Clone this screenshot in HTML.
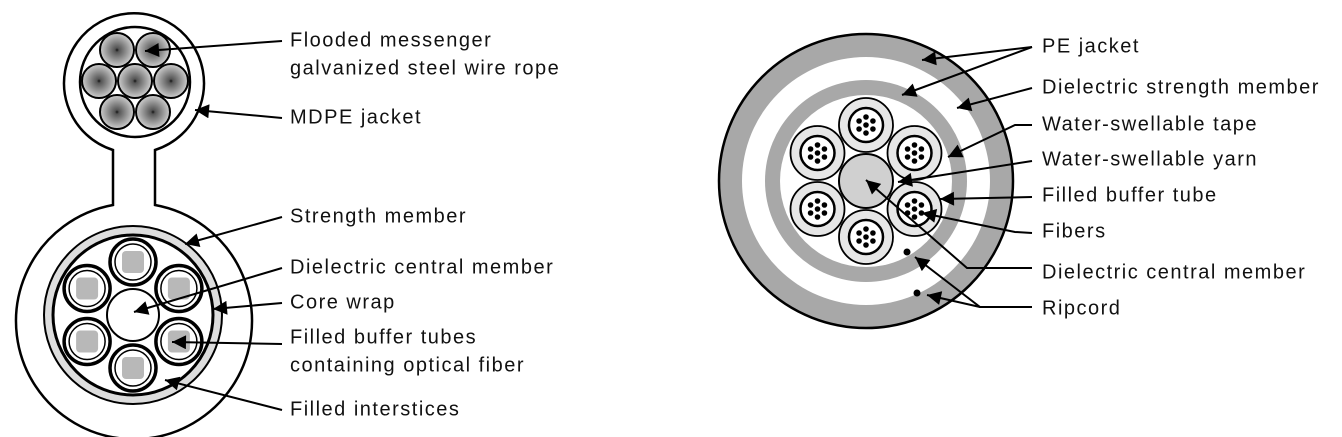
<!DOCTYPE html>
<html><head><meta charset="utf-8"><style>
html,body{margin:0;padding:0;background:#fff;}
svg{display:block;}
text{font-family:"Liberation Sans",sans-serif;font-size:20px;letter-spacing:1.5px;fill:#111;dominant-baseline:middle;}
</style></head><body>
<svg width="1342" height="437" viewBox="0 0 1342 437">
<defs>
<marker id="ah" viewBox="0 0 10 10" refX="10" refY="5" markerWidth="22" markerHeight="14" markerUnits="userSpaceOnUse" orient="auto">
<path d="M0,0 L10,5 L0,10 z" fill="#000"/></marker>
<radialGradient id="wire"><stop offset="0" stop-color="#111"/><stop offset="0.12" stop-color="#555"/><stop offset="1" stop-color="#cfcfcf"/></radialGradient>
</defs>

<g stroke="#000" stroke-width="2.5">
<path d="M113,150 A70,70 0 1 1 155,150 L155,205 A118,118 0 1 1 113,205 Z" fill="#fff"/>
<circle cx="135" cy="82" r="55" fill="#fff"/>
<g fill="url(#wire)" stroke-width="2">
<circle cx="135" cy="81" r="17"/><circle cx="99" cy="81" r="17"/><circle cx="171" cy="81" r="17"/>
<circle cx="117" cy="50" r="17"/><circle cx="153" cy="50" r="17"/>
<circle cx="117" cy="112" r="17"/><circle cx="153" cy="112" r="17"/>
</g>
<circle cx="133" cy="315" r="89" fill="#ddd" stroke-width="2"/>
<circle cx="133" cy="315" r="80" fill="#fff" stroke-width="3"/>
<circle cx="133" cy="315" r="26" fill="#fff" stroke-width="2"/>
<g id="ltubes"></g>
</g>

<g>
<circle cx="866" cy="181" r="147" fill="#a8a8a8" stroke="#000" stroke-width="2.5"/>
<circle cx="866" cy="181" r="124" fill="#fff"/>
<circle cx="866" cy="181" r="101" fill="#a8a8a8"/>
<circle cx="866" cy="181" r="86" fill="#fff"/>
<circle cx="866" cy="181" r="27" fill="#d0d0d0" stroke="#000" stroke-width="2"/>
<g id="rtubes"></g>
<circle cx="907" cy="252" r="3.5" fill="#000"/>
<circle cx="917" cy="293" r="3.5" fill="#000"/>
</g>

<g fill="none" stroke="#000" stroke-width="2" marker-end="url(#ah)">
<line x1="282" y1="41" x2="145" y2="51"/>
<line x1="282" y1="118" x2="195" y2="110"/>
<line x1="282" y1="217" x2="185" y2="244"/>
<line x1="282" y1="268" x2="134" y2="312"/>
<line x1="282" y1="303" x2="213" y2="309"/>
<line x1="282" y1="344" x2="172" y2="342"/>
<line x1="282" y1="410" x2="165" y2="380"/>
<line x1="1032" y1="47" x2="922" y2="60"/>
<line x1="1032" y1="47" x2="902" y2="95"/>
<line x1="1032" y1="88" x2="957" y2="108"/>
<polyline points="1032,125 1015,125 948,157"/>
<line x1="1032" y1="161" x2="898" y2="182"/>
<line x1="1032" y1="197" x2="940" y2="199"/>
<polyline points="1032,233 1015,232 922,213"/>
<polyline points="1032,268 967,268 866,180"/>
<polyline points="1032,307 980,307 915,257"/>
<polyline points="980,307 927,295"/>
</g>

<g>
<text x="290" y="41">Flooded messenger</text>
<text x="290" y="69">galvanized steel wire rope</text>
<text x="290" y="118">MDPE jacket</text>
<text x="290" y="217">Strength member</text>
<text x="290" y="268">Dielectric central member</text>
<text x="290" y="303">Core wrap</text>
<text x="290" y="338">Filled buffer tubes</text>
<text x="290" y="366">containing optical fiber</text>
<text x="290" y="410">Filled interstices</text>
</g>
<g>
<text x="1042" y="47">PE jacket</text>
<text x="1042" y="88">Dielectric strength member</text>
<text x="1042" y="125">Water-swellable tape</text>
<text x="1042" y="160">Water-swellable yarn</text>
<text x="1042" y="196">Filled buffer tube</text>
<text x="1042" y="232">Fibers</text>
<text x="1042" y="273">Dielectric central member</text>
<text x="1042" y="309">Ripcord</text>
</g>
</svg>
<script>
const NS='http://www.w3.org/2000/svg';
function mk(tag,attrs,parent){const e=document.createElementNS(NS,tag);for(const k in attrs)e.setAttribute(k,attrs[k]);parent.appendChild(e);return e;}
const angles=[-90,-30,30,90,150,210];
const lt=document.getElementById('ltubes');
angles.forEach(a=>{
  const r=a*Math.PI/180, x=133+53*Math.cos(r), y=315+53*Math.sin(r);
  const g=mk('g',{},lt);
  
  
  mk('circle',{cx:x,cy:y,r:23,fill:'#fff',stroke:'#000','stroke-width':3.5},g);
  mk('circle',{cx:x,cy:y,r:18,fill:'#fff',stroke:'#000','stroke-width':1.5},g);
  mk('rect',{x:x-11,y:y-11,width:22,height:22,rx:4,fill:'#b8b8b8',stroke:'none'},g);
});
const rt=document.getElementById('rtubes');
angles.forEach(a=>{
  const r=a*Math.PI/180, x=866+56*Math.cos(r), y=181+56*Math.sin(r);
  const g=mk('g',{},rt);
  
  
  mk('circle',{cx:x,cy:y,r:27,fill:'#e6e6e6',stroke:'#000','stroke-width':1.8},g);
  mk('circle',{cx:x,cy:y,r:17,fill:'#fff',stroke:'#000','stroke-width':2.5},g);
  mk('circle',{cx:x,cy:y,r:2.8,fill:'#000'},g);
  for(let i=0;i<6;i++){const b=(i*60-90)*Math.PI/180;
    mk('circle',{cx:x+8*Math.cos(b),cy:y+8*Math.sin(b),r:2.8,fill:'#000'},g);}
});
</script>
</body></html>
